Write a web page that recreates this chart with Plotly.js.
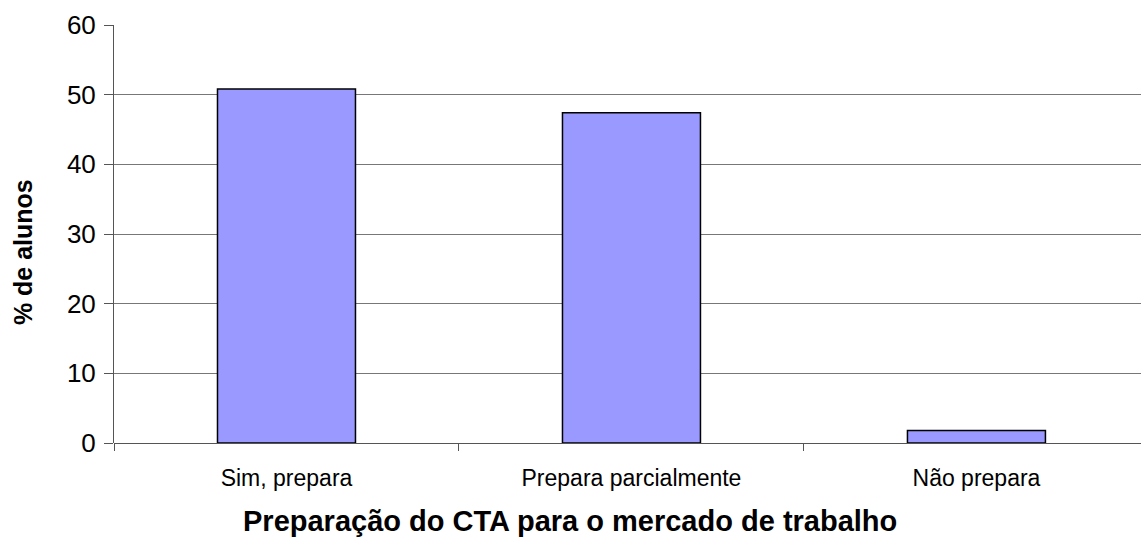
<!DOCTYPE html>
<html><head><meta charset="utf-8">
<script src="https://cdn.plot.ly/plotly-3.0.1.min.js"></script>
<style>html,body{margin:0;padding:0;background:#fff}</style>
</head><body>
<div id="chart" style="width:1141px;height:540px"></div>
<script>
const categories = ["Sim, prepara", "Prepara parcialmente", "Não prepara"];
const values = [50.8, 47.4, 1.8];
const yTicks = [0, 10, 20, 30, 40, 50, 60];
const xTitle = "Preparação do CTA para o mercado de trabalho";
const yTitle = "% de alunos";

Plotly.newPlot("chart", [{
  type: "bar",
  x: categories,
  y: values,
  width: 0.4,
  marker: {color: "#9999FF", line: {color: "#000000", width: 1.5}},
  hoverinfo: "none"
}], {
  width: 1141, height: 540,
  margin: {l: 114, r: 0, t: 25, b: 97},
  paper_bgcolor: "#fff", plot_bgcolor: "#fff",
  showlegend: false,
  font: {family: "Liberation Sans, Arial, sans-serif", color: "#000"},
  xaxis: {
    range: [-0.5, 2.477],
    tickson: "boundaries",
    ticks: "outside", ticklen: 7, tickcolor: "#555", tickwidth: 1,
    ticklabelstandoff: 19,
    showline: false, showgrid: false, zeroline: false,
    tickfont: {size: 23}
  },
  yaxis: {
    range: [0, 60],
    tickvals: yTicks,
    ticks: "outside", ticklen: 9, tickcolor: "#555", tickwidth: 1,
    ticklabelstandoff: 3,
    showline: true, linecolor: "#555", linewidth: 1,
    showgrid: true, gridcolor: "#777", gridwidth: 1,
    zeroline: true, zerolinecolor: "#555", zerolinewidth: 1,
    tickfont: {size: 26}
  },
  annotations: [
    {text: "<b>" + xTitle + "</b>", xref: "paper", yref: "paper", x: 0.444, y: -0.186,
     xanchor: "center", yanchor: "middle", showarrow: false, font: {size: 29}},
    {text: "<b>" + yTitle + "</b>", xref: "paper", yref: "paper", x: -0.0885, y: 0.457,
     xanchor: "center", yanchor: "middle", textangle: -90, showarrow: false, font: {size: 25}}
  ]
}, {staticPlot: true});
</script>
</body></html>
